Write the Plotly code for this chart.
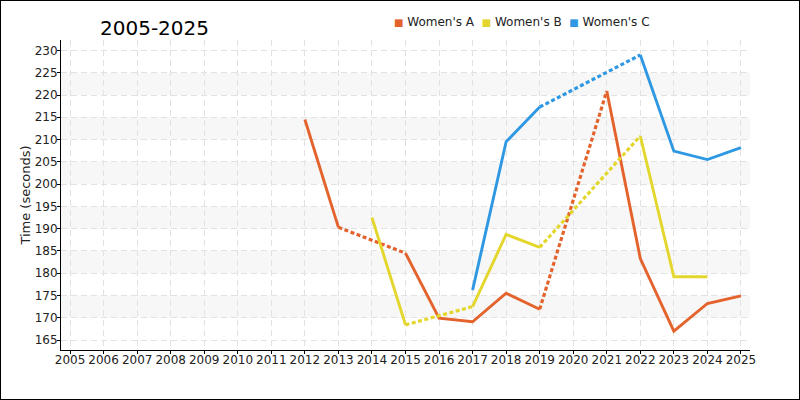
import plotly.graph_objects as go

years = list(range(2005, 2026))
series_names = ["Women's A", "Women's B", "Women's C"]
series_colors = ["#e4632d", "#e3d62c", "#2f98e3"]

womens_a = [None, None, None, None, None, None, None, 214.5, 190.3, None, 184.5, 169.9, 169.1,
            175.5, 171.9, None, 220.9, 183.3, 167.0, 173.2, 174.9]
womens_b = [None, None, None, None, None, None, None, None, None, 192.5, 168.4, None, 172.5,
            188.7, 185.8, None, None, 210.8, 179.2, 179.2, None]
womens_c = [None, None, None, None, None, None, None, None, None, None, None, None, 176.2,
            209.5, 217.3, None, None, 229.0, 207.4, 205.5, 208.2]
series_values = [womens_a, womens_b, womens_c]

title_text = "2005-2025"
y_title = "Time (seconds)"
y_ticks = list(range(165, 231, 5))

ML, MR, MT, MB = 61, 50, 40, 50
PW, PH = 800 - ML - MR, 400 - MT - MB

fig = go.Figure()

# Alternating horizontal bands
for lo in range(170, 225, 10):
    fig.add_shape(type="rect", xref="paper", yref="y", x0=0, x1=1, y0=lo, y1=lo + 5,
                  fillcolor="#f7f7f7", line_width=0, layer="below")

for name, color, vals in zip(series_names, series_colors, series_values):
    # dashed connectors across missing years
    gx, gy = [], []
    known = [(x, v) for x, v in zip(years, vals) if v is not None]
    for (x0, v0), (x1, v1) in zip(known[:-1], known[1:]):
        if x1 - x0 > 1:
            gx += [x0, x1, None]
            gy += [v0, v1, None]
    if gx:
        fig.add_trace(go.Scatter(x=gx, y=gy, mode="lines", showlegend=False, hoverinfo="skip",
                                 line=dict(color=color, width=3.2, dash="4px,2.5px")))
    fig.add_trace(go.Scatter(x=years, y=vals, mode="lines", name=name, showlegend=False,
                             connectgaps=False, line=dict(color=color, width=2.9)))

legend_text = "&nbsp;&nbsp;".join(
    f"<span style='color:{c};font-size:10px'>■</span> {n}" for n, c in zip(series_names, series_colors)
)
fig.add_annotation(text=legend_text, xref="paper", yref="paper", showarrow=False,
                   x=(522 - ML) / PW, y=1 + 18 / PH, xanchor="center", yanchor="middle",
                   font=dict(size=12, color="#222", family="DejaVu Sans"))

# outer border
fig.add_shape(type="rect", xref="paper", yref="paper",
              x0=-ML / PW, x1=1 + MR / PW, y0=-MB / PH, y1=1 + MT / PH,
              line=dict(color="black", width=2), fillcolor="rgba(0,0,0,0)", layer="above")

fig.update_layout(
    width=800, height=400,
    margin=dict(l=ML, r=MR, t=MT, b=MB),
    paper_bgcolor="white", plot_bgcolor="white",
    font=dict(family="DejaVu Sans", color="#222", size=12),
    title=dict(text=title_text, x=100 / 800, xanchor="left", xref="container",
               y=1 - 28 / 400, yanchor="middle", yref="container",
               font=dict(size=20, color="black", family="DejaVu Sans")),
    showlegend=False,
)
fig.update_xaxes(range=[2004.73, 2025.27], tickmode="array", tickvals=years,
                 ticktext=[str(y) for y in years], showline=True, linecolor="black", linewidth=1,
                 ticks="outside", ticklen=3, tickcolor="black", showgrid=True, gridcolor="#e2e2e2",
                 griddash="6px,4px", zeroline=False, tickfont=dict(size=12), ticklabelstandoff=-4)
fig.update_yaxes(range=[162.76, 232.35], tickmode="array", tickvals=y_ticks, showline=True,
                 linecolor="black", linewidth=1, ticks="outside", ticklen=3, tickcolor="black",
                 showgrid=True, gridcolor="#e2e2e2", griddash="6px,4px", zeroline=False,
                 tickfont=dict(size=12), ticklabelstandoff=-3,
                 title=dict(text=y_title, font=dict(size=13), standoff=1))

fig.write_html("out.html", config={"displayModeBar": False},
               post_script="document.body.style.margin='0px';")
